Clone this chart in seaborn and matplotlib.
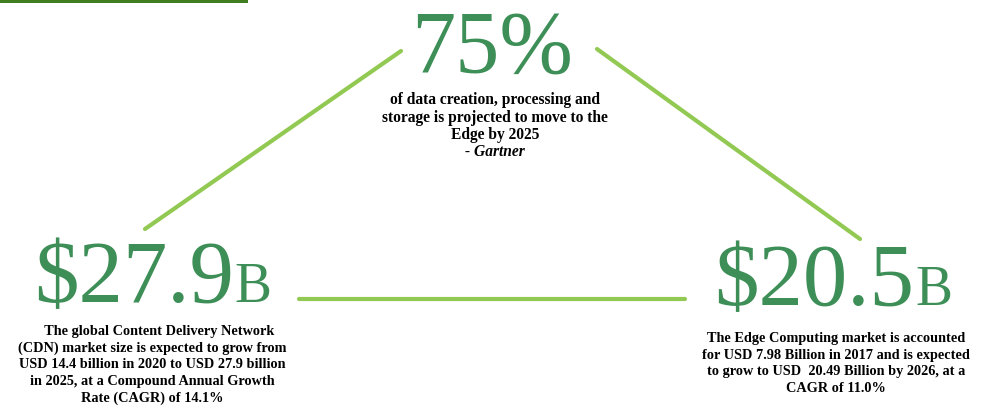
import matplotlib
matplotlib.use("Agg")
import matplotlib.pyplot as plt
import seaborn as sns
import pandas as pd

# ---- data ----
headline_numbers = ["75%", "$27.9", "$20.5"]
headline_suffix = ["", "B", "B"]
top_lines = ["of data creation, processing and",
             "storage is projected to move to the",
             "Edge by 2025"]
top_source = "- Gartner"
left_lines = ["    The global Content Delivery Network",
              "(CDN) market size is expected to grow from",
              "USD 14.4 billion in 2020 to USD 27.9 billion",
              "in 2025, at a Compound Annual Growth",
              "Rate (CAGR) of 14.1%"]
right_lines = ["The Edge Computing market is accounted",
               "for USD 7.98 Billion in 2017 and is expected",
               "to grow to USD  20.49 Billion by 2026, at a",
               "CAGR of 11.0%"]

# connector lines (x, y in pixel-like canvas units)
conn_id = ["left", "left", "right", "right", "bottom", "bottom"]
conn_x = [145, 401, 597, 860, 299, 685]
conn_y = [229, 51, 49, 239, 299, 299]

sns.set_theme(style="white")
plt.rcParams['font.family'] = ['Liberation Serif', 'DejaVu Serif']

W, H = 996, 409
fig = plt.figure(figsize=(W / 100, H / 100), dpi=100)
ax = fig.add_axes([0, 0, 1, 1])

BIG = "#3d8f57"
LINE = "#92c952"
DARK = "#3f7f22"

# top-left bar
ax.fill_between([0, 248], 0, 3.2, color=DARK, lw=0)

df = pd.DataFrame({"id": conn_id, "x": conn_x, "y": conn_y})
for cid, sub in df.groupby("id"):
    sns.lineplot(data=sub, x="x", y="y", ax=ax, color=LINE, lw=3.0,
                 sort=False, estimator=None, legend=False)
ax.set_xlim(0, W)
ax.set_ylim(H, 0)
ax.axis("off")

fig.canvas.draw()
renderer = fig.canvas.get_renderer()


def big_number(text, suffix, x_left, y_base, size, suf_size):
    t = ax.text(x_left, y_base, text, fontsize=size, color=BIG,
                ha="left", va="baseline")
    if suffix:
        bb = t.get_window_extent(renderer)
        x_end = ax.transData.inverted().transform((bb.x1, bb.y0))[0]
        ax.text(x_end + 1, y_base, suffix, fontsize=suf_size, color=BIG,
                ha="left", va="baseline")


# 75%
ax.text(492, 72, headline_numbers[0], fontsize=63.5, color=BIG,
        ha="center", va="baseline")
big_number(headline_numbers[1], headline_suffix[1], 34, 302, 64, 40)
big_number(headline_numbers[2], headline_suffix[2], 714, 305, 64, 40)

top_fs = 11.2
for i, line in enumerate(top_lines):
    ax.text(495, 104 + i * 17.5, line, fontsize=top_fs, fontweight="bold",
            color="black", ha="center", va="baseline")
ax.text(495, 104 + 3 * 17.5, top_source, fontsize=top_fs, fontweight="bold",
        fontstyle="italic", color="black", ha="center", va="baseline")

body_fs = 10.3
for i, line in enumerate(left_lines):
    ax.text(152, 335 + i * 16.6, line, fontsize=body_fs, fontweight="bold",
            color="black", ha="center", va="baseline")

for i, line in enumerate(right_lines):
    ax.text(836, 342 + i * 16.6, line, fontsize=body_fs, fontweight="bold",
            color="black", ha="center", va="baseline")

fig.savefig("out.png", dpi=100)
